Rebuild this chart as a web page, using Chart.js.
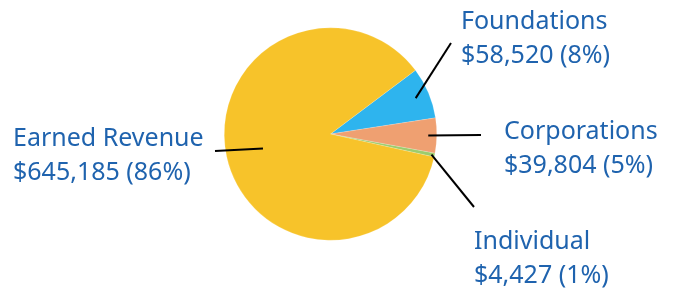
<!DOCTYPE html>
<html>
<head>
<meta charset="utf-8">
<script src="https://cdn.jsdelivr.net/npm/chart.js@4"></script>
<style>
  html, body { margin: 0; padding: 0; background: #fff; }
  #wrap { width: 673px; height: 288px; position: relative; }
</style>
</head>
<body>
<div id="wrap"><canvas id="fundingChart" width="673" height="288"></canvas></div>
<script>
// Données
const categories = ['Foundations', 'Corporations', 'Individual', 'Earned Revenue'];
const amounts = [58520, 39804, 4427, 645185];
const percentLabels = ['8%', '5%', '1%', '86%'];
const sliceColors = ['#2EB4EE', '#EFA071', '#9DCC6C', '#F7C32A'];

// Position des étiquettes (ancre du texte, fin du trait, point de départ sur la part)
const labelAnchors = [
    { x: 461, y: 29, lineX: 451, lineY: 43, r: 0.87 },
    { x: 504, y: 139, lineX: 481, lineY: 135, r: 0.92 },
    { x: 474, y: 249, lineX: 474, lineY: 207, r: 0.97 },
    { x: 13, y: 146, lineX: 215, lineY: 151, r: 0.65 }
];

function formatMoney(v) {
    return '$' + v.toLocaleString('en-US');
}

// Plugin pour les étiquettes avec traits
const leaderLabels = {
    id: 'leaderLabels',
    afterDraw(chart) {
        const ctx = chart.ctx;
        const meta = chart.getDatasetMeta(0);
        ctx.save();
        meta.data.forEach((arc, i) => {
            const a = labelAnchors[i];
            const mid = (arc.startAngle + arc.endAngle) / 2;
            const sx = arc.x + Math.cos(mid) * arc.outerRadius * a.r;
            const sy = arc.y + Math.sin(mid) * arc.outerRadius * a.r;
            ctx.strokeStyle = '#000';
            ctx.lineWidth = 2;
            ctx.beginPath();
            ctx.moveTo(sx, sy);
            ctx.lineTo(a.lineX, a.lineY);
            ctx.stroke();

            ctx.fillStyle = '#1F63AE';
            ctx.font = '25px "Noto Sans"';
            ctx.textBaseline = 'alphabetic';
            ctx.textAlign = 'left';
            ctx.fillText(categories[i], a.x, a.y);
            ctx.fillText(formatMoney(amounts[i]) + ' (' + percentLabels[i] + ')', a.x, a.y + 34);
        });
        ctx.restore();
    }
};

const ctx = document.getElementById('fundingChart').getContext('2d');
new Chart(ctx, {
    type: 'pie',
    data: {
        labels: categories,
        datasets: [{
            data: amounts,
            backgroundColor: sliceColors,
            borderColor: 'rgba(255,255,255,0.35)',
            borderWidth: 0.5
        }]
    },
    options: {
        responsive: false,
        animation: false,
        rotation: 53.1,
        layout: {
            padding: { top: 27, bottom: 47, left: 224, right: 236 }
        },
        plugins: {
            legend: { display: false },
            tooltip: { enabled: false }
        }
    },
    plugins: [leaderLabels]
});
</script>
</body>
</html>
